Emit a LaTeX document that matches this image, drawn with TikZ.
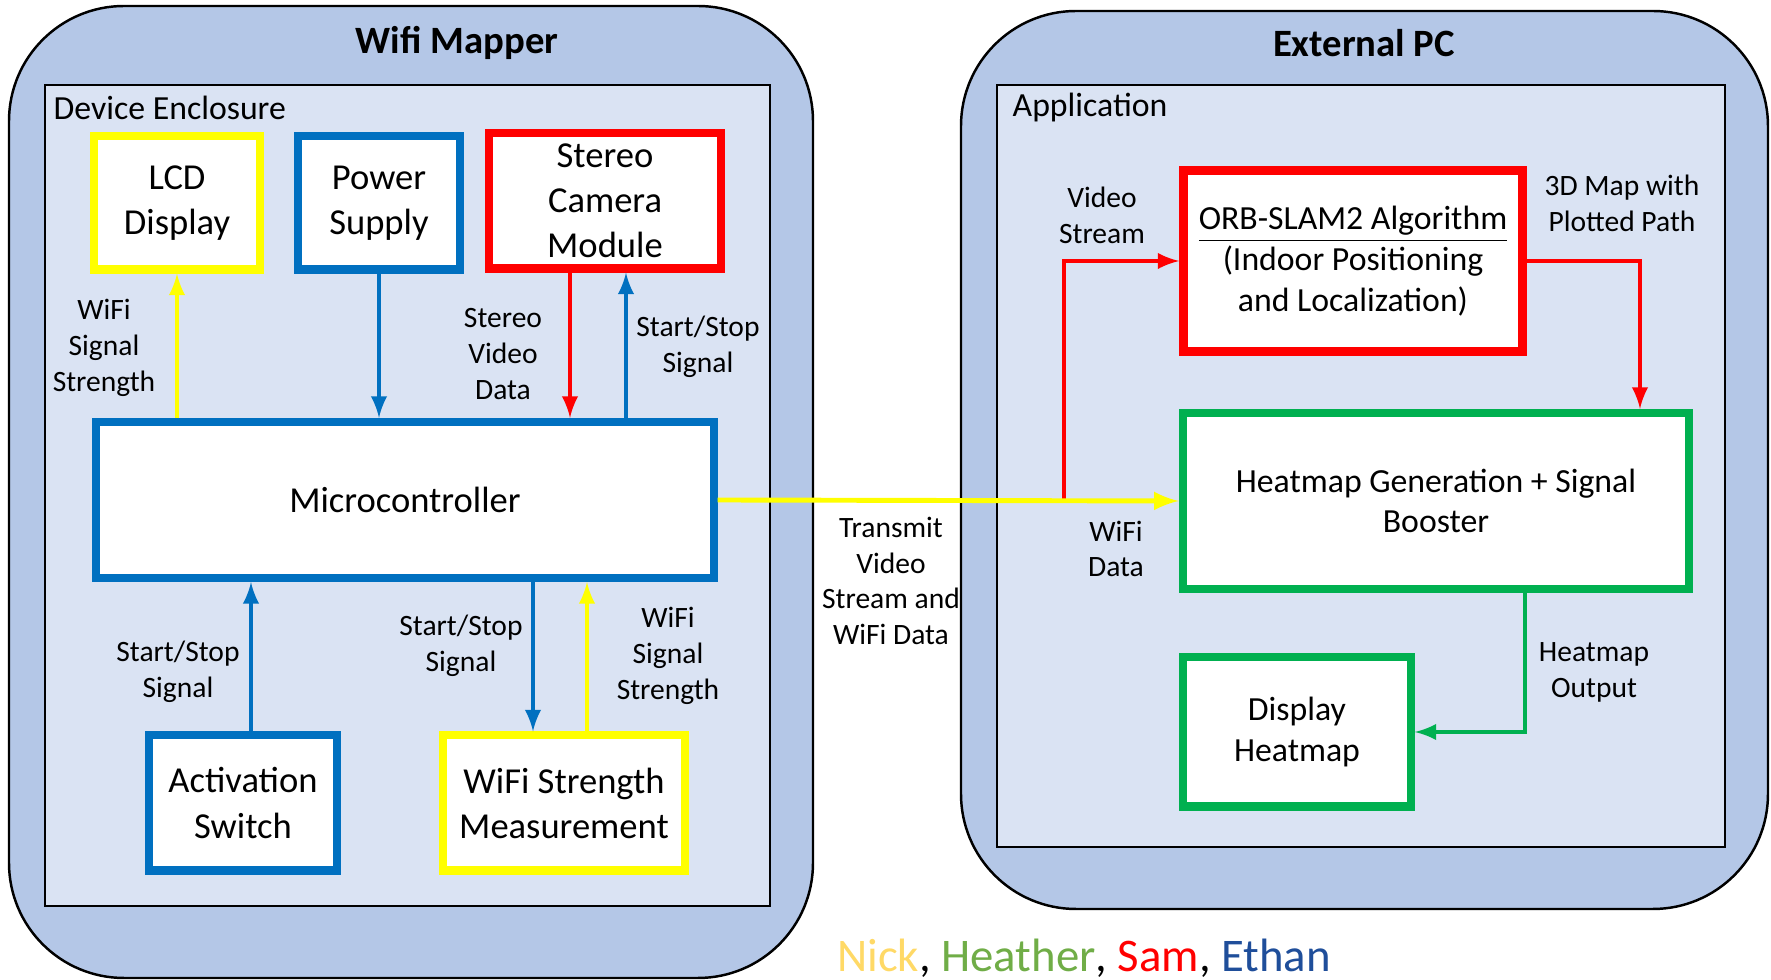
\documentclass[tikz,border=0pt]{standalone}
\usepackage{fontspec}
\setmainfont{Carlito}

\definecolor{caseblue}{HTML}{B4C7E7}
\definecolor{panelblue}{HTML}{DAE3F3}
\definecolor{wireblue}{HTML}{0070C0}
\definecolor{wireyellow}{HTML}{FFFF00}
\definecolor{wirered}{HTML}{FF0000}
\definecolor{wiregreen}{HTML}{00B050}
\definecolor{nickcol}{HTML}{FFD966}
\definecolor{heathercol}{HTML}{70AD47}
\definecolor{ethancol}{HTML}{1F4E9A}

\tikzset{
	block/.style={draw, fill=white, line width=2.3pt, align=center, inner sep=0pt,
		font=\fontsize{10.4}{12.8}\selectfont},
	appblock/.style={block, font=\fontsize{9.6}{11.6}\selectfont},
	lbl/.style={align=center, inner sep=0pt, font=\fontsize{8.4}{10.2}\selectfont},
	title/.style={font=\bfseries\fontsize{11}{13}\selectfont},
	wire/.style={line width=1.1pt, -latex},
	shell/.style={draw, fill=caseblue, line width=0.7pt, rounded corners=1.15cm},
	panel/.style={draw, fill=panelblue, line width=0.8pt},
}

\begin{document}
\begin{tikzpicture}[x=0.01cm, y=-0.01cm]
	\useasboundingbox (0,0) rectangle (1771,980);
	% Enclosures:
	\draw[shell] (9, 6) rectangle (813, 978);
	\draw[shell] (961, 11) rectangle (1768, 909);
	\draw[panel] (45, 85) rectangle (770, 906);
	\draw[panel] (997, 85) rectangle (1725, 847);
	\node[title](mapper) at (457, 43){Wifi Mapper};
	\node[title](pc) at (1364, 43){External PC};
	\node[anchor=west, inner sep=0pt, font=\fontsize{9.6}{11.6}\selectfont](enclosure) at (53, 108){Device Enclosure};
	\node[anchor=west, inner sep=0pt, font=\fontsize{9.6}{11.6}\selectfont](app) at (1012, 108){Application};

	% Blocks of the device:
	\node[block, draw=wireyellow, minimum width=1.65cm, minimum height=1.33cm](lcd) at (177, 203){LCD\\Display};
	\node[block, draw=wireblue, minimum width=1.62cm, minimum height=1.33cm](power) at (379, 203){Power\\Supply};
	\node[block, draw=wirered, minimum width=2.32cm, minimum height=1.35cm](camera) at (605, 201){Stereo\\Camera\\Module};
	\node[block, draw=wireblue, minimum width=6.17cm, minimum height=1.56cm](micro) at (405, 500){Microcontroller};
	\node[block, draw=wireblue, minimum width=1.87cm, minimum height=1.35cm](switch) at (243, 803){Activation\\Switch};
	\node[block, draw=wireyellow, minimum width=2.42cm, minimum height=1.35cm](meter) at (564, 803){WiFi Strength\\Measurement};

	% Blocks of the application:
	\node[appblock, draw=wirered, line width=2.6pt, minimum width=3.38cm, minimum height=1.81cm](slam) at (1353, 261){\underline{ORB-SLAM2 Algorithm}\\(Indoor Positioning\\and Localization)};
	\node[appblock, draw=wiregreen, minimum width=5.06cm, minimum height=1.76cm](heatgen) at (1436, 501){Heatmap Generation + Signal\\Booster};
	\node[appblock, draw=wiregreen, minimum width=2.27cm, minimum height=1.49cm](show) at (1297, 732){Display\\Heatmap};

	% Wires inside the device:
	\draw[wire, wireyellow] (micro.north -| lcd) -- (lcd.south);
	\draw[wire, wireblue] (power.south) -- (micro.north -| power);
	\draw[wire, wirered] (camera.south -| 570,0) -- (micro.north -| 570,0);
	\draw[wire, wireblue] (micro.north -| 626,0) -- (camera.south -| 626,0);
	\draw[wire, wireblue] (switch.north -| 251,0) -- (micro.south -| 251,0);
	\draw[wire, wireblue] (micro.south -| 533,0) -- (meter.north -| 533,0);
	\draw[wire, wireyellow] (meter.north -| 587,0) -- (micro.south -| 587,0);

	% Wires on the PC side:
	\draw[wire, wirered] (1064,0 |- heatgen.west) |- (slam.west);
	\draw[wire, wirered] (slam.east) -| (heatgen.north -| 1640,0);
	\draw[wire, wiregreen] (heatgen.south -| 1525,0) |- (show.east);
	\draw[wire, wireyellow, line width=1.4pt] (micro.east) -- (heatgen.west);

	% Labels:
	\node[lbl](l1) at (104, 348){WiFi\\Signal\\Strength};
	\node[lbl](l2) at (503, 354){Stereo\\Video\\Data};
	\node[lbl](l3) at (698, 347){Start/Stop\\Signal};
	\node[lbl](l4) at (178, 672){Start/Stop\\Signal};
	\node[lbl](l5) at (461, 646){Start/Stop\\Signal};
	\node[lbl](l6) at (668, 656){WiFi\\Signal\\Strength};
	\node[lbl](l7) at (891, 581){Transmit\\Video\\Stream and\\WiFi Data};
	\node[lbl](l8) at (1102, 215){Video\\Stream};
	\node[lbl](l9) at (1116, 549){WiFi\\Data};
	\node[lbl](l10) at (1622, 203){3D Map with\\Plotted Path};
	\node[lbl](l11) at (1594, 672){Heatmap\\Output};

	\node[font=\fontsize{13.3}{16}\selectfont](team) at (1084, 958){\textcolor{nickcol}{Nick}, \textcolor{heathercol}{Heather}, \textcolor{wirered}{Sam}, \textcolor{ethancol}{Ethan}};
\end{tikzpicture}
\end{document}
